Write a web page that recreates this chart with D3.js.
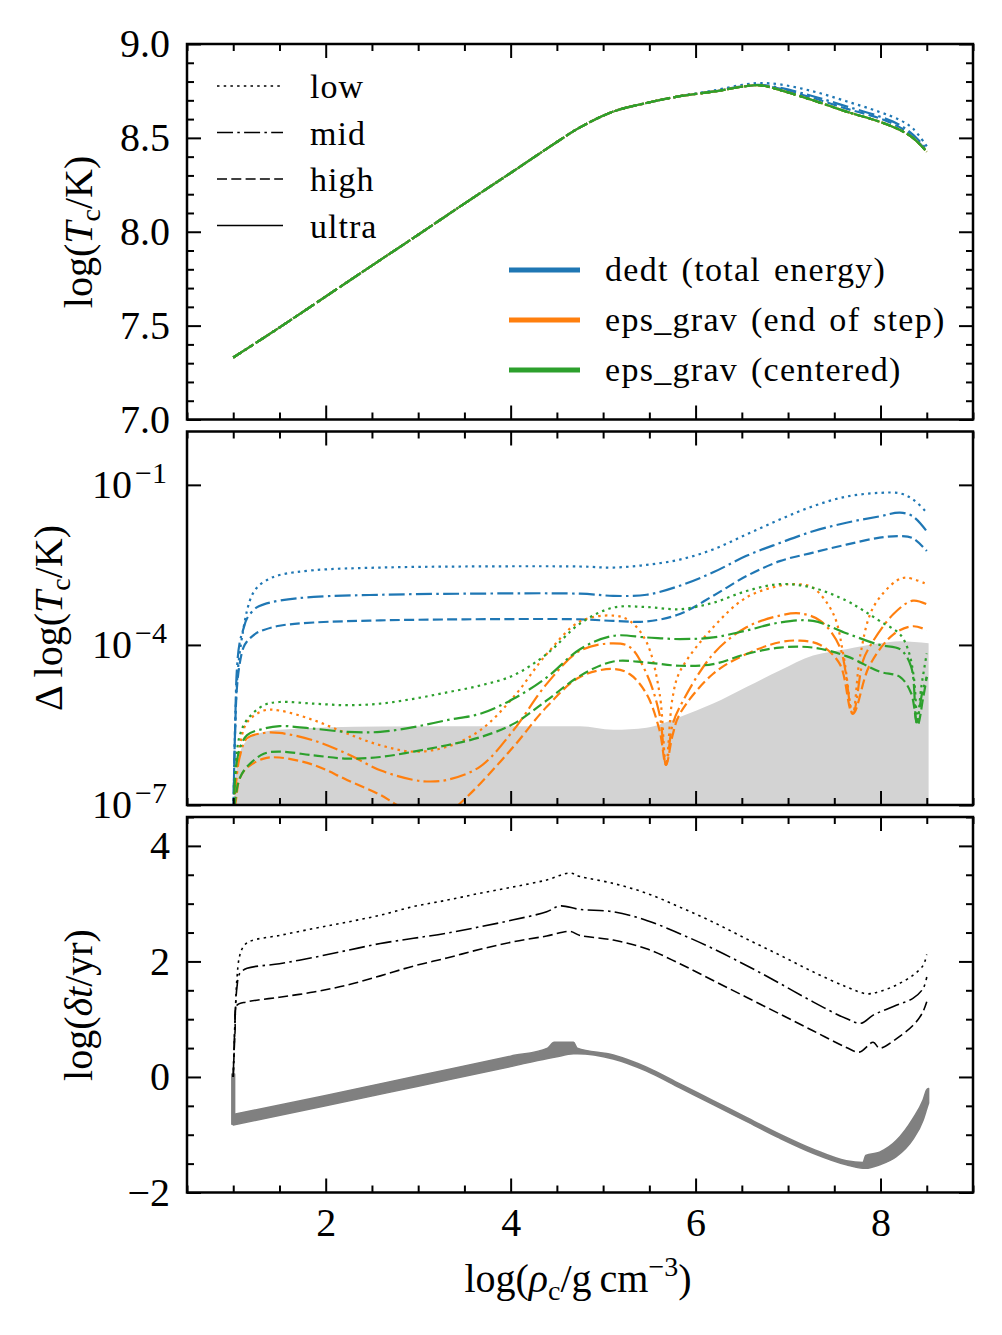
<!DOCTYPE html>
<html>
<head>
<meta charset="utf-8">
<script src="https://cdn.jsdelivr.net/npm/d3@7"></script>
<style>
  body { margin: 0; background: #fff; }
  text { font-family: "Liberation Serif", "DejaVu Serif", serif; fill: #000; }
</style>
</head>
<body>
<div id="chart-area"></div>
<script>

// ---------- data ----------
const resolutions = ["low", "mid", "high", "ultra"];
const methodNames = ["dedt (total energy)", "eps_grav (end of step)", "eps_grav (centered)"];
const methodColors = ["#1f77b4", "#ff7f0e", "#2ca02c"];

// top panel: log Tc along log rho_c
const tcRho      = [1.0, 1.5, 2.0, 2.5, 3.0, 3.5, 4.0, 4.5, 4.75, 5.11, 5.47, 5.83, 6.19, 6.55, 6.7, 6.91, 7.27, 7.63, 7.99, 8.21, 8.35, 8.5];
const tcBlueLow  = [7.33, 7.49, 7.655, 7.82, 7.984, 8.15, 8.313, 8.478, 8.556, 8.64, 8.686, 8.722, 8.752, 8.786, 8.792, 8.785, 8.748, 8.695, 8.638, 8.595, 8.55, 8.455];
const tcBlueMid  = [7.33, 7.49, 7.655, 7.82, 7.984, 8.15, 8.313, 8.478, 8.556, 8.64, 8.686, 8.722, 8.748, 8.778, 8.782, 8.767, 8.722, 8.668, 8.614, 8.568, 8.518, 8.44];
const tcBlueHigh = [7.33, 7.49, 7.655, 7.82, 7.984, 8.15, 8.313, 8.478, 8.556, 8.64, 8.686, 8.722, 8.746, 8.776, 8.78, 8.762, 8.712, 8.656, 8.604, 8.556, 8.506, 8.432];
const tcOther    = [7.33, 7.49, 7.655, 7.82, 7.984, 8.15, 8.313, 8.478, 8.556, 8.64, 8.686, 8.722, 8.746, 8.776, 8.78, 8.755, 8.70, 8.64, 8.586, 8.542, 8.50, 8.426];

// middle panel: [log rho_c, log10 of Δ log Tc]
const dBlueLow = [[1.0,-7.3],[1.02,-5.6],[1.04,-4.7],[1.07,-4.15],[1.11,-3.7],[1.15,-3.35],[1.2,-3.08],[1.27,-2.9],[1.38,-2.77],[1.5,-2.69],[1.87,-2.6],[2.59,-2.55],[3.5,-2.53],[4.75,-2.53],[5.11,-2.55],[5.47,-2.5],[5.83,-2.4],[6.19,-2.21],[6.55,-1.93],[6.91,-1.65],[7.27,-1.4],[7.63,-1.22],[7.99,-1.15],[8.21,-1.16],[8.35,-1.27],[8.5,-1.52]];
const dBlueMid = [[1.0,-7.3],[1.02,-5.6],[1.04,-4.45],[1.07,-3.95],[1.11,-3.7],[1.15,-3.5],[1.25,-3.3],[1.33,-3.24],[1.5,-3.17],[1.87,-3.1],[2.59,-3.06],[3.5,-3.04],[4.75,-3.04],[5.11,-3.08],[5.47,-3.06],[5.83,-2.89],[6.19,-2.64],[6.55,-2.33],[6.91,-2.09],[7.27,-1.87],[7.63,-1.71],[7.99,-1.59],[8.21,-1.52],[8.35,-1.59],[8.5,-1.87]];
const dBlueHigh = [[1.0,-7.3],[1.02,-5.6],[1.04,-4.8],[1.07,-4.35],[1.11,-4.05],[1.15,-3.93],[1.25,-3.78],[1.33,-3.72],[1.5,-3.64],[1.87,-3.58],[2.59,-3.54],[3.5,-3.52],[4.75,-3.52],[5.11,-3.55],[5.47,-3.56],[5.83,-3.42],[6.19,-3.08],[6.55,-2.71],[6.91,-2.43],[7.27,-2.27],[7.63,-2.12],[7.99,-1.99],[8.21,-1.96],[8.35,-2.0],[8.5,-2.24]];
const dOrangeLow = [[1.0,-7.3],[1.03,-6.5],[1.07,-5.9],[1.15,-5.45],[1.33,-5.23],[1.5,-5.23],[1.87,-5.41],[2.23,-5.66],[2.59,-5.88],[2.95,-6.0],[3.31,-5.91],[3.67,-5.6],[4.03,-4.98],[4.39,-4.17],[4.75,-3.56],[5.11,-3.45],[5.29,-3.55],[5.47,-3.95],[5.61,-4.9],[5.68,-6.25],[5.75,-5.0],[5.83,-4.5],[6.19,-3.67],[6.55,-3.11],[6.91,-2.89],[7.09,-2.86],[7.27,-2.93],[7.49,-3.42],[7.6,-4.2],[7.7,-5.29],[7.78,-4.2],[7.92,-3.3],[8.17,-2.8],[8.28,-2.74],[8.5,-2.86]];
const dOrangeMid = [[1.0,-7.3],[1.03,-6.6],[1.07,-6.1],[1.15,-5.75],[1.33,-5.65],[1.5,-5.65],[1.87,-5.79],[2.23,-6.04],[2.59,-6.35],[2.95,-6.53],[3.13,-6.56],[3.31,-6.53],[3.67,-6.28],[4.03,-5.6],[4.39,-4.73],[4.75,-4.11],[5.11,-3.97],[5.29,-4.04],[5.47,-4.54],[5.61,-5.3],[5.68,-6.25],[5.75,-5.5],[5.83,-5.16],[6.19,-4.17],[6.55,-3.67],[6.91,-3.45],[7.13,-3.41],[7.35,-3.55],[7.56,-4.04],[7.7,-5.29],[7.81,-4.3],[7.88,-4.04],[8.14,-3.42],[8.35,-3.17],[8.5,-3.24]];
const dOrangeHigh = [[1.0,-7.3],[1.03,-6.9],[1.07,-6.5],[1.15,-6.3],[1.33,-6.13],[1.5,-6.11],[1.87,-6.25],[2.23,-6.53],[2.59,-6.81],[2.77,-7.0],[3.0,-7.2],[3.2,-7.25],[3.35,-7.12],[3.49,-6.91],[3.67,-6.6],[4.03,-5.91],[4.39,-5.16],[4.75,-4.6],[5.11,-4.45],[5.29,-4.55],[5.47,-4.92],[5.61,-5.6],[5.68,-6.25],[5.75,-5.7],[5.83,-5.29],[6.19,-4.54],[6.55,-4.17],[6.91,-3.95],[7.13,-3.92],[7.35,-4.0],[7.56,-4.36],[7.7,-5.29],[7.88,-4.39],[8.14,-3.8],[8.35,-3.65],[8.5,-3.72]];
const dGreenLow = [[1.0,-7.3],[1.03,-6.2],[1.07,-5.7],[1.15,-5.4],[1.33,-5.13],[1.5,-5.07],[1.87,-5.1],[2.23,-5.13],[2.59,-5.1],[2.95,-5.01],[3.31,-4.89],[3.67,-4.76],[4.03,-4.57],[4.39,-4.17],[4.75,-3.6],[5.11,-3.3],[5.47,-3.29],[5.83,-3.33],[6.19,-3.21],[6.55,-2.99],[6.91,-2.86],[7.27,-2.93],[7.63,-3.17],[7.81,-3.35],[7.99,-3.55],[8.21,-3.8],[8.3,-4.1],[8.36,-4.6],[8.4,-5.4],[8.44,-4.8],[8.5,-4.16]];
const dGreenMid = [[1.0,-7.3],[1.03,-6.3],[1.07,-5.95],[1.15,-5.69],[1.33,-5.57],[1.5,-5.52],[1.87,-5.57],[2.23,-5.63],[2.59,-5.63],[2.95,-5.54],[3.31,-5.41],[3.67,-5.29],[4.03,-5.01],[4.39,-4.61],[4.75,-4.08],[5.11,-3.83],[5.47,-3.86],[5.83,-3.89],[6.19,-3.86],[6.55,-3.73],[6.91,-3.58],[7.27,-3.55],[7.63,-3.78],[7.99,-4.0],[8.21,-4.08],[8.33,-4.4],[8.39,-5.45],[8.45,-4.9],[8.5,-4.6]];
const dGreenHigh = [[1.0,-7.3],[1.03,-6.8],[1.07,-6.5],[1.15,-6.28],[1.33,-6.04],[1.5,-6.0],[1.87,-6.07],[2.23,-6.13],[2.59,-6.1],[2.95,-6.0],[3.31,-5.88],[3.67,-5.73],[4.03,-5.48],[4.39,-5.04],[4.75,-4.58],[5.11,-4.31],[5.47,-4.33],[5.83,-4.39],[6.19,-4.36],[6.55,-4.17],[6.91,-4.05],[7.27,-4.05],[7.63,-4.21],[7.99,-4.5],[8.21,-4.6],[8.33,-4.9],[8.4,-5.5],[8.46,-5.0],[8.5,-4.6]];
// grey band (upper edge, log10)
const dBand = [[1.0,-7.3],[1.03,-6.4],[1.07,-6.04],[1.15,-5.79],[1.33,-5.63],[1.5,-5.59],[2.59,-5.53],[4.75,-5.525],[5.11,-5.59],[5.47,-5.55],[5.83,-5.35],[6.19,-5.10],[6.55,-4.79],[6.91,-4.48],[7.27,-4.20],[7.63,-4.08],[7.99,-3.97],[8.21,-3.93],[8.52,-3.97]];

// bottom panel: log dt/yr
const dtLow  = [[1.0,0.0],[1.02,1.0],[1.04,1.7],[1.07,2.1],[1.12,2.28],[1.2,2.36],[1.5,2.45],[1.87,2.57],[2.23,2.68],[2.59,2.8],[2.95,2.95],[3.31,3.06],[3.67,3.18],[4.03,3.29],[4.39,3.41],[4.64,3.53],[4.75,3.47],[5.11,3.35],[5.47,3.18],[5.83,2.94],[6.19,2.68],[6.55,2.39],[6.91,2.11],[7.27,1.82],[7.63,1.56],[7.85,1.44],[7.99,1.48],[8.17,1.59],[8.35,1.76],[8.46,1.93],[8.5,2.12]];
const dtMid  = [[1.0,0.0],[1.02,1.0],[1.04,1.55],[1.07,1.79],[1.15,1.88],[1.5,1.96],[1.87,2.07],[2.23,2.19],[2.59,2.31],[2.95,2.40],[3.31,2.49],[3.67,2.60],[4.03,2.72],[4.39,2.86],[4.53,2.96],[4.75,2.9],[5.11,2.86],[5.47,2.71],[5.83,2.48],[6.19,2.22],[6.55,1.93],[6.91,1.62],[7.27,1.30],[7.63,1.01],[7.79,0.93],[7.92,1.07],[8.17,1.24],[8.35,1.36],[8.46,1.53],[8.5,1.73]];
const dtHigh = [[1.0,0.0],[1.02,0.8],[1.04,1.24],[1.15,1.30],[1.5,1.38],[1.87,1.47],[2.23,1.59],[2.59,1.75],[2.95,1.92],[3.31,2.06],[3.67,2.21],[4.03,2.34],[4.39,2.44],[4.64,2.52],[4.75,2.45],[5.11,2.37],[5.47,2.22],[5.83,1.96],[6.19,1.67],[6.55,1.38],[6.91,1.09],[7.27,0.80],[7.63,0.51],[7.77,0.43],[7.92,0.6],[7.99,0.5],[8.17,0.66],[8.35,0.89],[8.45,1.1],[8.5,1.30]];
// ultra run drawn as a thick grey band: [log rho_c, lower edge, upper edge]
const dtUltraStart = [[0.985,-0.82,0.05],[1.015,-0.82,0.05]];
const dtUltra = [[1.0,-0.83,-0.65],[2.0,-0.50,-0.32],[3.0,-0.16,0.02],[4.0,0.18,0.36],[4.4,0.32,0.50],[4.47,0.34,0.60],[4.68,0.40,0.60],[4.72,0.40,0.50],[5.11,0.31,0.38],[5.47,0.10,0.17],[5.83,-0.19,-0.12],[6.19,-0.48,-0.41],[6.55,-0.77,-0.70],[6.91,-1.06,-0.99],[7.27,-1.32,-1.25],[7.63,-1.52,-1.45],[7.81,-1.58,-1.48],[7.84,-1.58,-1.36],[7.99,-1.52,-1.30],[8.17,-1.38,-1.10],[8.35,-1.08,-0.72],[8.46,-0.75,-0.40],[8.5,-0.55,-0.22],[8.52,-0.45,-0.20]];

const xTickVals = [2, 4, 6, 8];
const tcTickVals = [7.0, 7.5, 8.0, 8.5, 9.0];
const dTickExp = [-7, -4, -1];
const dtTickVals = [-2, 0, 2, 4];

// ---------- layout ----------
const W = 1002, H = 1335;
const left = 187, right = 973;
const panels = [
  {top: 44, bottom: 419.5},
  {top: 431.5, bottom: 805},
  {top: 817, bottom: 1192.5}
];
const tickFont = 40, legendFont = 34;

const dashFor = {low: "2.5,4.2", mid: "16,4.3,2.5,4.3", high: "10,4.3", ultra: null};

let svg = d3.select("#chart-area").append("svg")
    .attr("width", W)
    .attr("height", H);

let x = d3.scaleLinear().domain([0.5, 9]).range([left, right]);

let y1 = d3.scaleLinear().domain([7, 9]).range([panels[0].bottom, panels[0].top]);
let y2 = d3.scaleLog().domain([1e-7, 1]).range([panels[1].bottom, panels[1].top]);
let y3 = d3.scaleLinear().domain([-2, 4.5]).range([panels[2].bottom, panels[2].top]);

// clip paths for each panel
panels.forEach((p, i) => {
  svg.append("clipPath").attr("id", "clip" + i)
    .append("rect")
    .attr("x", left).attr("y", p.top)
    .attr("width", right - left).attr("height", p.bottom - p.top);
});

let curve = d3.curveCatmullRom.alpha(0.5);

// ---------- top panel ----------
let g1 = svg.append("g").attr("clip-path", "url(#clip0)");
let tcSets = [[tcBlueLow, tcBlueMid, tcBlueHigh], [tcOther, tcOther, tcOther], [tcOther, tcOther, tcOther]];
let line1 = d3.line().x((d, i) => x(tcRho[i])).y(d => y1(d)).curve(curve);
tcSets.forEach((set, m) => {
  set.forEach((vals, r) => {
    g1.append("path")
      .attr("d", line1(vals))
      .attr("fill", "none")
      .attr("stroke", methodColors[m])
      .attr("stroke-width", 2.2)
      .attr("stroke-dasharray", dashFor[resolutions[r]]);
  });
});

// ---------- middle panel ----------
let g2 = svg.append("g").attr("clip-path", "url(#clip1)");
let area2 = d3.area()
    .x(d => x(d[0]))
    .y0(panels[1].bottom + 5)
    .y1(d => y2(Math.pow(10, d[1])))
    .curve(d3.curveMonotoneX);
g2.append("path").attr("d", area2(dBand)).attr("fill", "#d3d3d3");

let line2 = d3.line().x(d => x(d[0])).y(d => y2(Math.pow(10, d[1]))).curve(curve);
let dSets = [[dBlueLow, dBlueMid, dBlueHigh], [dOrangeLow, dOrangeMid, dOrangeHigh], [dGreenLow, dGreenMid, dGreenHigh]];
dSets.forEach((set, m) => {
  set.forEach((vals, r) => {
    g2.append("path")
      .attr("d", line2(vals))
      .attr("fill", "none")
      .attr("stroke", methodColors[m])
      .attr("stroke-width", 2.2)
      .attr("stroke-dasharray", dashFor[resolutions[r]]);
  });
});

// ---------- bottom panel ----------
let g3 = svg.append("g").attr("clip-path", "url(#clip2)");
let area3 = d3.area()
    .x(d => x(d[0]))
    .y0(d => y3(d[1]))
    .y1(d => y3(d[2]))
    .curve(d3.curveMonotoneX);
[dtUltraStart, dtUltra].forEach(band => {
  g3.append("path")
    .attr("d", area3(band))
    .attr("fill", "#808080")
    .attr("stroke", "#808080")
    .attr("stroke-width", 1.5)
    .attr("stroke-linejoin", "round");
});

let line3 = d3.line().x(d => x(d[0])).y(d => y3(d[1])).curve(curve);
[dtLow, dtMid, dtHigh].forEach((vals, r) => {
  g3.append("path")
    .attr("d", line3(vals))
    .attr("fill", "none")
    .attr("stroke", "#000")
    .attr("stroke-width", 1.6)
    .attr("stroke-dasharray", dashFor[resolutions[r]]);
});

// ---------- axes / frames ----------
function styleAxis(sel) {
  sel.select(".domain").remove();
  sel.selectAll(".tick line").attr("stroke", "#000").attr("stroke-width", 2);
  sel.selectAll(".tick text").attr("font-size", tickFont).attr("fill", "#000").attr("font-family", null);
}

let xMinor = d3.range(0.5, 9.01, 0.5).filter(v => v % 2 !== 0);

function drawFrame(p, yScale, yMajor, yMinor, showX, pad) {
  let ax = svg.append("g");
  ax.append("g").attr("transform", `translate(0,${p.bottom})`)
    .call(d3.axisBottom(x).tickValues(xMinor).tickSize(-7).tickFormat("")).call(styleAxis);
  ax.append("g").attr("transform", `translate(0,${p.bottom})`)
    .call(d3.axisBottom(x).tickValues(xTickVals).tickSize(-14).tickPadding(15)
      .tickFormat(showX ? d3.format("d") : "")).call(styleAxis);
  ax.append("g").attr("transform", `translate(0,${p.top})`)
    .call(d3.axisTop(x).tickValues(xMinor).tickSize(-7).tickFormat("")).call(styleAxis);
  ax.append("g").attr("transform", `translate(0,${p.top})`)
    .call(d3.axisTop(x).tickValues(xTickVals).tickSize(-14).tickFormat("")).call(styleAxis);

  if (yMinor.length) {
    ax.append("g").attr("transform", `translate(${left},0)`)
      .call(d3.axisLeft(yScale).tickValues(yMinor).tickSize(-7).tickFormat("")).call(styleAxis);
    ax.append("g").attr("transform", `translate(${right},0)`)
      .call(d3.axisRight(yScale).tickValues(yMinor).tickSize(-7).tickFormat("")).call(styleAxis);
  }
  let yl = ax.append("g").attr("transform", `translate(${left},0)`)
    .call(d3.axisLeft(yScale).tickValues(yMajor).tickSize(-14).tickPadding(pad)).call(styleAxis);
  ax.append("g").attr("transform", `translate(${right},0)`)
    .call(d3.axisRight(yScale).tickValues(yMajor).tickSize(-14).tickFormat("")).call(styleAxis);

  ax.append("rect")
    .attr("x", left).attr("y", p.top)
    .attr("width", right - left).attr("height", p.bottom - p.top)
    .attr("fill", "none").attr("stroke", "#000").attr("stroke-width", 2.5);
  return yl;
}

let yl1 = drawFrame(panels[0], y1, tcTickVals, d3.range(7, 9.001, 0.1).filter(v => Math.abs(v * 2 - Math.round(v * 2)) > 0.01), false, 17);
yl1.selectAll(".tick text").text(d => d3.format(".1f")(d));

let yl2 = drawFrame(panels[1], y2, dTickExp.map(e => Math.pow(10, e)), [], false, 20);
yl2.selectAll(".tick text").each(function(d) {
  let t = d3.select(this).text(null);
  t.append("tspan").text("10");
  t.append("tspan").attr("dx", 3).attr("dy", -15).attr("font-size", 30).text("\u2212" + Math.round(-Math.log10(d)));
});

let yl3 = drawFrame(panels[2], y3, dtTickVals, d3.range(-2, 4.501, 0.5).filter(v => v % 2 !== 0), true, 17);
yl3.selectAll(".tick text").text(d => d < 0 ? "\u2212" + Math.abs(d) : String(d));

// ---------- axis titles ----------
function label(parts, tx, ty, rot) {
  let t = svg.append("text")
    .attr("transform", `translate(${tx},${ty})` + (rot ? " rotate(-90)" : ""))
    .attr("text-anchor", "middle")
    .attr("font-size", tickFont);
  parts.forEach(p => {
    let s = t.append("tspan").text(p.t);
    if (p.i) s.attr("font-style", "italic");
    if (p.sub) s.attr("font-size", 28).attr("dy", 8);
    if (p.sup) s.attr("font-size", 28).attr("dy", -16);
    if (p.back) s.attr("dy", p.back);
  });
}

label([{t: "log("}, {t: "T", i: true}, {t: "c", sub: true}, {t: "/K)", back: -8}], 92, 232, true);
label([{t: "\u0394 log("}, {t: "T", i: true}, {t: "c", sub: true}, {t: "/K)", back: -8}], 62, 618, true);
label([{t: "log("}, {t: "\u03b4t", i: true}, {t: "/yr)"}], 92, 1005, true);
label([{t: "log("}, {t: "\u03c1", i: true}, {t: "c", sub: true}, {t: "/g\u2009cm", back: -8}, {t: "\u22123", sup: true}, {t: ")", back: 16}], 578, 1292, false);

// ---------- legends ----------
let leg1 = svg.append("g");
resolutions.forEach((r, i) => {
  let ly = 86 + i * 46.5;
  leg1.append("line")
    .attr("x1", 217).attr("x2", 283).attr("y1", ly).attr("y2", ly)
    .attr("stroke", "#000").attr("stroke-width", 1.6)
    .attr("stroke-dasharray", dashFor[r]);
  leg1.append("text").attr("x", 310).attr("y", ly + 12)
    .attr("font-size", legendFont).attr("letter-spacing", 1).text(r);
});

let leg2 = svg.append("g");
methodNames.forEach((name, i) => {
  let ly = 270 + i * 50;
  leg2.append("line")
    .attr("x1", 509).attr("x2", 580).attr("y1", ly).attr("y2", ly)
    .attr("stroke", methodColors[i]).attr("stroke-width", 5);
  leg2.append("text").attr("x", 605).attr("y", ly + 11)
    .attr("font-size", legendFont).attr("letter-spacing", 1.3).attr("word-spacing", 3).text(name);
});

</script>
</body>
</html>
